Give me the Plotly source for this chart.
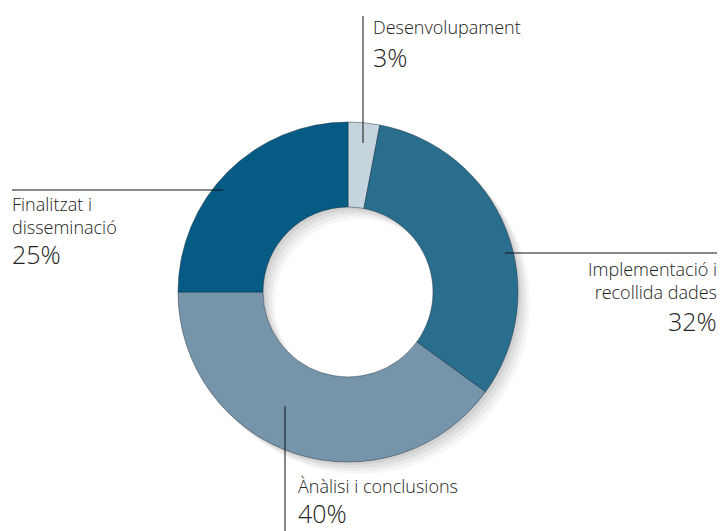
import plotly.graph_objects as go

labels = ["Desenvolupament", "Implementació i<br>recollida dades", "Ànàlisi i conclusions", "Finalitzat i<br>disseminació"]
values = [3, 32, 40, 25]
colors = ["#c6d4de", "#2a6e8e", "#7695aa", "#055b84"]

W, H = 721, 531
cx, cy, R = 348, 292, 170  # page pixels

def px(x):
    return x / W

def py(y):
    return 1 - y / H

def dom(dx=0, dy=0):
    return dict(x=[px(cx + dx - R), px(cx + dx + R)],
                y=[py(cy + dy + R), py(cy + dy - R)])

fig = go.Figure()

# soft drop shadow layers
for off, a in [(12, 0.035), (9, 0.045), (6, 0.05), (3, 0.06)]:
    fig.add_trace(go.Pie(values=[sum(values)], hole=0.5, sort=False, textinfo="none",
                         hoverinfo="skip", showlegend=False,
                         marker=dict(colors=[f"rgba(0,0,0,{a})"], line=dict(width=0)),
                         domain=dom(off, off)))

fig.add_trace(go.Pie(labels=labels, values=values, hole=0.5, sort=False, direction="clockwise",
                     rotation=0, textinfo="none", showlegend=False,
                     marker=dict(colors=colors, line=dict(color="rgba(20,40,55,0.45)", width=1)),
                     domain=dom()))

font_name = dict(family="Open Sans", size=18, color="#222222", weight=300)
font_pct = dict(family="Open Sans", size=25, color="#222222", weight=300)

# label annotations: (x, name y-top, pct y-top, anchor)
ann = [
    (372, 14, 39, "left"),
    (718, 256, 303, "right"),
    (297, 473, 495, "left"),
    (11, 191, 236, "left"),
]
for i, (x, yn, yp, al) in enumerate(ann):
    fig.add_annotation(x=px(x), y=py(yn), xref="paper", yref="paper", text=labels[i],
                       showarrow=False, xanchor=al, yanchor="top", align=al, font=font_name,
                       borderpad=0)
    fig.add_annotation(x=px(x), y=py(yp), xref="paper", yref="paper", text=f"{values[i]}%",
                       showarrow=False, xanchor=al, yanchor="top", align=al, font=font_pct,
                       borderpad=0)

line = dict(color="#111111", width=1)
fig.add_shape(type="line", xref="paper", yref="paper", x0=px(363), x1=px(363), y0=py(16), y1=py(143), line=line)
fig.add_shape(type="line", xref="paper", yref="paper", x0=px(505), x1=px(717), y0=py(253), y1=py(253), line=line)
fig.add_shape(type="line", xref="paper", yref="paper", x0=px(285), x1=px(285), y0=py(406), y1=py(531), line=line)
fig.add_shape(type="line", xref="paper", yref="paper", x0=px(12), x1=px(223), y0=py(190), y1=py(190), line=line)

fig.update_layout(width=W, height=H, margin=dict(l=0, r=0, t=0, b=0),
                  paper_bgcolor="white", plot_bgcolor="white")
fig.write_html("out.html", config={"displayModeBar": False},
               post_script="document.body.style.margin='0';document.body.style.overflow='hidden';")
